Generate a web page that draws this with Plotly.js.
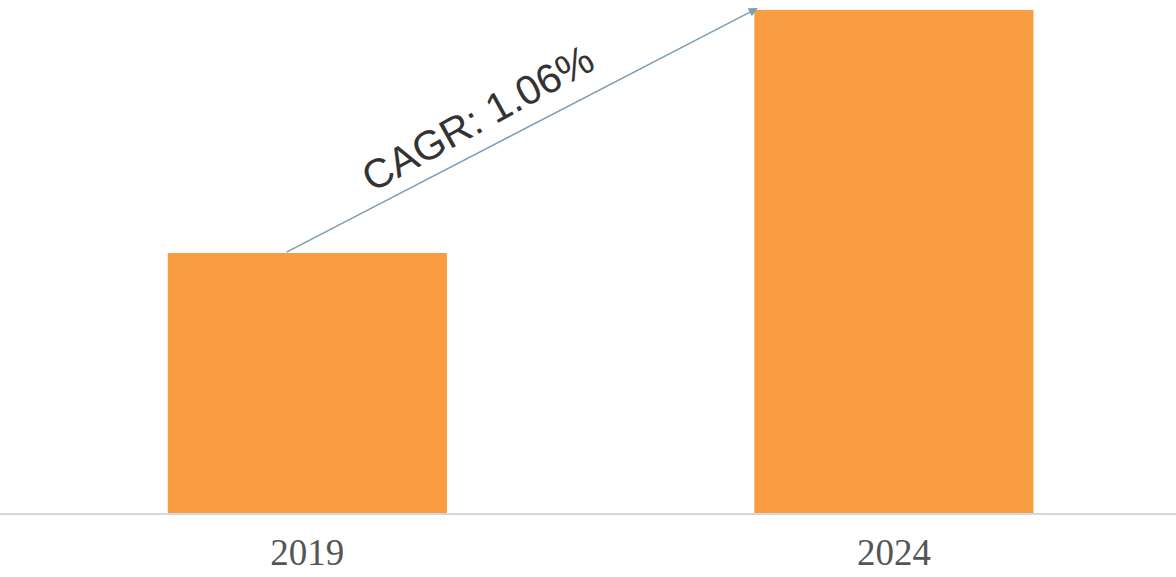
<!DOCTYPE html>
<html>
<head>
<meta charset="utf-8">
<script src="https://cdn.plot.ly/plotly-3.0.1.min.js"></script>
<style>html,body{margin:0;padding:0;background:#fff;}#chart{width:1176px;height:577px;}</style>
</head>
<body>
<div id="chart"></div>
<script>
const categories = ['2019', '2024'];
const values = [5.17, 10.0];
const cagrLabel = 'CAGR: 1.06%';

const trace = {
  type: 'bar',
  x: [0, 1],
  y: values,
  width: 0.476,
  marker: {color: '#FA9D42', line: {width: 0}},
  hoverinfo: 'skip'
};

const layout = {
  width: 1176,
  height: 577,
  margin: {l: 0, r: 0, t: 0, b: 64},
  paper_bgcolor: '#ffffff',
  plot_bgcolor: '#ffffff',
  showlegend: false,
  xaxis: {
    range: [-0.524, 1.481],
    tickvals: [0, 1],
    ticktext: categories,
    showgrid: false,
    zeroline: false,
    showline: true,
    linecolor: '#d3d6da',
    linewidth: 2,
    ticks: '',
    ticklabelstandoff: 6,
    tickfont: {family: 'Liberation Serif', size: 37, color: '#555555'}
  },
  yaxis: {
    range: [0, 10.199],
    visible: false,
    showgrid: false,
    zeroline: false
  },
  annotations: [
    {
      x: 0.768, y: values[1] + 0.04, xref: 'x', yref: 'y',
      ax: -0.038, ay: values[0], axref: 'x', ayref: 'y',
      text: '', showarrow: true, arrowhead: 2, arrowsize: 1.2,
      arrowwidth: 1.5, arrowcolor: '#7d9db5', standoff: 0, startstandoff: 0
    },
    {
      x: 0.291, y: 7.85, xref: 'x', yref: 'y',
      text: cagrLabel, showarrow: false, textangle: -29,
      font: {family: 'Liberation Sans', size: 41, color: '#333333'}
    }
  ]
};

Plotly.newPlot('chart', [trace], layout, {displayModeBar: false, staticPlot: true});
</script>
</body>
</html>
